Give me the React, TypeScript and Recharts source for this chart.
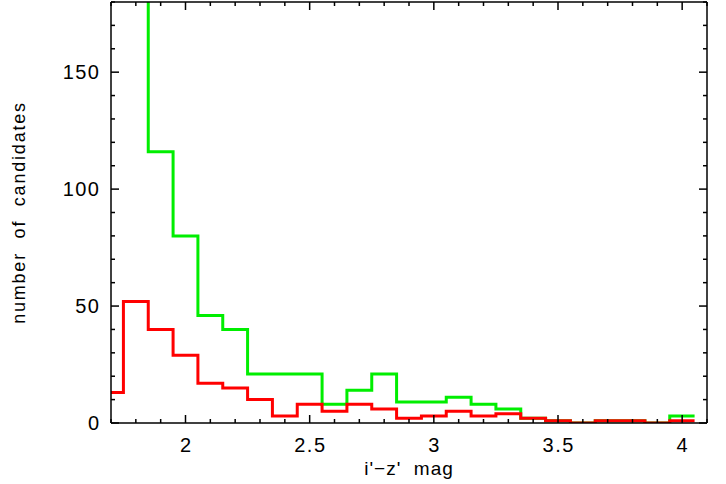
import React from 'react';
import { LineChart, Line, XAxis, YAxis, Label } from 'recharts';

// bin centres (width 0.1) and counts per bin
const binCenters = [
  1.7, 1.8, 1.9, 2.0, 2.1, 2.2, 2.3, 2.4, 2.5, 2.6, 2.7, 2.8, 2.9, 3.0, 3.1,
  3.2, 3.3, 3.4, 3.5, 3.6, 3.7, 3.8, 3.9, 4.0,
];
const redCounts = [
  13, 52, 40, 29, 17, 15, 10, 3, 8, 5, 8, 6, 2, 3, 5, 3, 4, 2, 1, 0, 1, 1, 0, 1,
];
const greenCounts = [
  null, 240, 116, 80, 46, 40, 21, 21, 21, 8, 14, 21, 9, 9, 11, 8, 6, 2, 1, 0, 1,
  1, 0, 3,
];

const xTicks = [
  1.7, 1.8, 1.9, 2.0, 2.1, 2.2, 2.3, 2.4, 2.5, 2.6, 2.7, 2.8, 2.9, 3.0, 3.1,
  3.2, 3.3, 3.4, 3.5, 3.6, 3.7, 3.8, 3.9, 4.0, 4.1,
];
const xMajor = [2, 2.5, 3, 3.5, 4];
const xLabels = ['2', '2.5', '3', '3.5', '4'];
const yTicks = [
  0, 10, 20, 30, 40, 50, 60, 70, 80, 90, 100, 110, 120, 130, 140, 150, 160, 170,
  180,
];
const yMajor = [0, 50, 100, 150];

const BIN = 0.1;
const FONT = '"Liberation Sans", Arial, sans-serif';

// step points at bin edges, last edge repeats the last bin
const data = binCenters.map((c, i) => ({
  x: +(c - BIN / 2).toFixed(2),
  red: redCounts[i],
  green: greenCounts[i],
}));
data.push({
  x: +(binCenters[binCenters.length - 1] + BIN / 2).toFixed(2),
  red: redCounts[redCounts.length - 1],
  green: greenCounts[greenCounts.length - 1],
});

const isMajorX = (v: number) => xMajor.some((m) => Math.abs(m - v) < 1e-6);
const isMajorY = (v: number) => yMajor.includes(v);

const BottomTick = (props: any) => {
  const { x, y, payload } = props;
  const major = isMajorX(payload.value);
  const idx = xMajor.findIndex((m) => Math.abs(m - payload.value) < 1e-6);
  return (
    <g>
      <line x1={x} x2={x} y1={y} y2={y - (major ? 8 : 4)} stroke="#000" strokeWidth={1.5} />
      {major && (
        <text x={x + 0.75} y={y + 29} textAnchor="middle" fontSize={20} fontFamily={FONT} letterSpacing={1.5} fill="#000">
          {xLabels[idx]}
        </text>
      )}
    </g>
  );
};

const TopTick = (props: any) => {
  const { x, y, payload } = props;
  const major = isMajorX(payload.value);
  return <line x1={x} x2={x} y1={y} y2={y + (major ? 8 : 4)} stroke="#000" strokeWidth={1.5} />;
};

const LeftTick = (props: any) => {
  const { x, y, payload } = props;
  const major = isMajorY(payload.value);
  return (
    <g>
      <line x1={x} x2={x + (major ? 8 : 4)} y1={y} y2={y} stroke="#000" strokeWidth={1.5} />
      {major && (
        <text x={x - 10.5} y={y + 6.5} textAnchor="end" fontSize={20} fontFamily={FONT} letterSpacing={1.5} fill="#000">
          {payload.value}
        </text>
      )}
    </g>
  );
};

const RightTick = (props: any) => {
  const { x, y, payload } = props;
  const major = isMajorY(payload.value);
  return <line x1={x} x2={x - (major ? 8 : 4)} y1={y} y2={y} stroke="#000" strokeWidth={1.5} />;
};

const XTitle = (props: any) => {
  const vb = props.viewBox || {};
  return (
    <text
      x={vb.x + vb.width / 2}
      y={vb.y + 52}
      textAnchor="middle"
      fontSize={19}
      fontFamily={FONT}
      letterSpacing={1}
      style={{ whiteSpace: 'pre' }}
      fill="#000"
    >
      {"i'−z'  mag"}
    </text>
  );
};

const YTitle = (props: any) => {
  const vb = props.viewBox || {};
  const cx = 25;
  const cy = vb.y + vb.height / 2;
  return (
    <text
      x={cx}
      y={cy}
      transform={`rotate(-90 ${cx} ${cy})`}
      textAnchor="middle"
      fontSize={18}
      fontFamily={FONT}
      letterSpacing={1.8}
      style={{ whiteSpace: 'pre' }}
      fill="#000"
    >
      {'number  of  candidates'}
    </text>
  );
};

const App: React.FC = () => {
  return (
    <div style={{ position: 'absolute', left: 0, top: 0, background: '#fff' }}>
      <LineChart
        width={726}
        height={484}
        data={data}
        margin={{ top: 0, right: 0, bottom: 0, left: 0 }}
      >
        <XAxis
          dataKey="x"
          type="number"
          domain={[1.7, 4.1]}
          allowDataOverflow
          ticks={xTicks}
          interval={0}
          height={61}
          tickSize={0}
          tickMargin={0}
          tickLine={false}
          tick={<BottomTick />}
          axisLine={{ stroke: '#000', strokeWidth: 1.5 }}
        >
          <Label content={<XTitle />} />
        </XAxis>
        <XAxis
          xAxisId="top"
          orientation="top"
          dataKey="x"
          type="number"
          domain={[1.7, 4.1]}
          allowDataOverflow
          ticks={xTicks}
          interval={0}
          height={2}
          tickSize={0}
          tickMargin={0}
          tickLine={false}
          tick={<TopTick />}
          axisLine={{ stroke: '#000', strokeWidth: 1.5 }}
        />
        <YAxis
          type="number"
          domain={[0, 180]}
          allowDataOverflow
          ticks={yTicks}
          interval={0}
          width={111}
          tickSize={0}
          tickMargin={0}
          tickLine={false}
          tick={<LeftTick />}
          axisLine={{ stroke: '#000', strokeWidth: 1.5 }}
        >
          <Label content={<YTitle />} />
        </YAxis>
        <YAxis
          yAxisId="right"
          orientation="right"
          type="number"
          domain={[0, 180]}
          allowDataOverflow
          ticks={yTicks}
          interval={0}
          width={19}
          tickSize={0}
          tickMargin={0}
          tickLine={false}
          tick={<RightTick />}
          axisLine={{ stroke: '#000', strokeWidth: 1.5 }}
        />
        <Line
          dataKey="green"
          type="stepAfter"
          stroke="#00ee00"
          strokeWidth={3}
          dot={false}
          isAnimationActive={false}
        />
        <Line
          dataKey="red"
          type="stepAfter"
          stroke="#ff0000"
          strokeWidth={3}
          dot={false}
          isAnimationActive={false}
        />
      </LineChart>
    </div>
  );
};

export default App;
